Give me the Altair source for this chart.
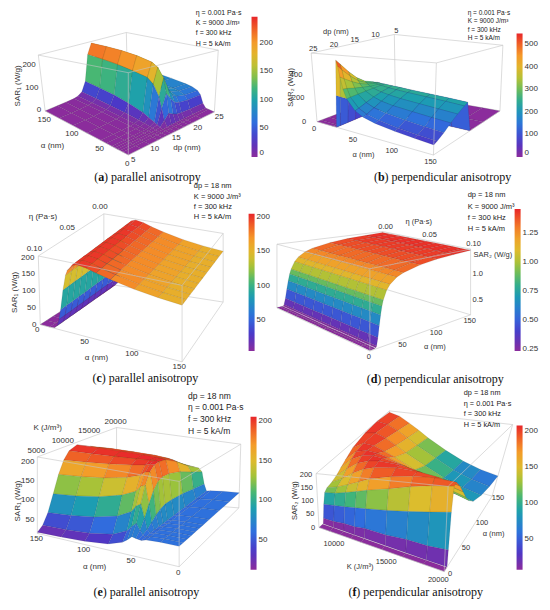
import altair as alt
import pandas as pd

# ======================= values =======================
# (a) parallel anisotropy: SAR1 (W/g) over alpha (nm) x dp (nm)
A_alpha = [0, 10, 15, 20, 25, 30, 40, 50, 75, 100, 125, 150]
A_dp = [5, 8, 10, 12, 13, 14, 15, 16, 17, 18, 19, 20, 22, 25]
A_sar = [
    [0, 0, 0, 0, 0, 0, 0, 0, 0, 0, 0, 0, 0, 0],
    [0, 0, 0, 0, 0, 0, 0, 0, 0, 1, 1, 1, 1, 1],
    [0, 0, 0, 0, 0, 0, 0, 1, 3, 2, 2, 2, 2, 2],
    [0, 0, 0, 0, 0, 1, 3, 20, 40, 30, 22, 20, 18, 17],
    [0, 0, 0, 0, 1, 3, 8, 60, 110, 85, 62, 55, 50, 48],
    [0, 0, 0, 1, 1, 4, 12, 100, 165, 120, 88, 75, 66, 62],
    [0, 0, 0, 1, 2, 6, 20, 140, 200, 140, 102, 86, 74, 70],
    [0, 0, 0, 1, 3, 9, 30, 160, 215, 148, 106, 89, 77, 73],
    [0, 0, 0, 2, 4, 12, 42, 170, 228, 152, 108, 90, 79, 76],
    [0, 0, 0, 2, 5, 15, 52, 180, 236, 154, 108, 90, 80, 77],
    [0, 0, 0, 2, 5, 17, 58, 186, 240, 153, 107, 90, 80, 77],
    [0, 0, 0, 2, 6, 18, 62, 190, 242, 152, 107, 90, 80, 77],
]
# (b) perpendicular anisotropy: SAR2 (W/g) over alpha x dp
B_alpha = [0, 20, 25, 27, 29, 31, 33, 36, 40, 50, 60, 75, 100, 125, 150]
B_dp = [5, 10, 13, 14, 15, 16, 18, 20, 22, 24, 25]
B_sar = [
    [0, 0, 0, 0, 0, 0, 0, 0, 0, 0, 0],
    [0, 0, 0, 0, 0, 0, 0, 0, 0, 0, 0],
    [0, 0, 0, 0, 0, 0, 0, 0, 0, 0, 0],
    [0, 0, 0, 0, 120, 130, 150, 170, 200, 240, 260],
    [0, 0, 0, 0, 265, 280, 310, 360, 430, 510, 548],
    [0, 0, 0, 0, 266, 276, 298, 336, 395, 462, 500],
    [0, 0, 0, 0, 265, 272, 287, 312, 350, 392, 415],
    [0, 0, 0, 0, 262, 266, 272, 285, 300, 318, 322],
    [0, 0, 0, 0, 262, 262, 260, 258, 255, 252, 250],
    [0, 0, 0, 0, 258, 252, 240, 222, 200, 178, 170],
    [0, 0, 0, 0, 255, 247, 228, 200, 172, 145, 135],
    [0, 0, 0, 0, 250, 240, 215, 183, 150, 120, 110],
    [0, 0, 0, 0, 243, 232, 203, 168, 130, 98, 88],
    [0, 0, 0, 0, 237, 224, 192, 155, 115, 84, 75],
    [0, 0, 0, 0, 230, 215, 182, 145, 105, 75, 65],
]
# (c) parallel anisotropy: SAR1 over alpha x eta (no visible eta dependence)
C_alpha = [0, 10, 15, 18, 20, 22, 25, 28, 30, 35, 40, 50, 60, 75, 100, 125, 150]
C_eta = [0, 0.01, 0.02, 0.03, 0.04, 0.05, 0.06, 0.07, 0.08, 0.09, 0.1]
C_sar = [0, 0, 2, 10, 30, 60, 120, 165, 180, 198, 202, 198, 190, 180, 167, 158, 152]
# (d) perpendicular anisotropy: SAR2 over alpha x eta (no visible eta dependence)
D_alpha = [0, 5, 8, 9, 10, 12, 14, 16, 18, 20, 25, 30, 40, 50, 75, 100, 125, 150]
D_eta = [0, 0.01, 0.02, 0.03, 0.04, 0.05, 0.06, 0.07, 0.08, 0.09, 0.1]
D_sar = [0.23, 0.23, 0.235, 0.236, 0.26, 0.38, 0.56, 0.72, 0.85, 0.94, 1.08, 1.16,
         1.25, 1.30, 1.37, 1.41, 1.43, 1.45]
# (e) parallel anisotropy: SAR1 over alpha x K (J/m3)
E_alpha = [0, 20, 35, 40, 43, 46, 50, 55, 60, 75, 100, 125, 150]
E_K = [5000, 6000, 7000, 8000, 9000, 10000, 11000, 12500, 15000, 17500, 20000]
E_sar = [
    [62, 62, 62, 62, 62, 62, 62, 62, 62, 62, 62],
    [62, 62, 62, 62, 62, 62, 62, 62, 62, 62, 62],
    [60, 60, 60, 60, 60, 60, 60, 60, 60, 60, 60],
    [56, 57, 58, 58, 58, 58, 58, 58, 58, 58, 58],
    [57, 60, 66, 76, 86, 94, 98, 98, 94, 86, 78],
    [58, 70, 92, 120, 146, 162, 168, 166, 154, 134, 114],
    [60, 85, 125, 165, 192, 204, 206, 202, 180, 150, 124],
    [50, 75, 118, 160, 190, 204, 207, 204, 184, 153, 126],
    [42, 62, 102, 146, 180, 200, 206, 205, 186, 156, 127],
    [30, 46, 84, 130, 168, 194, 204, 206, 189, 159, 129],
    [23, 36, 70, 115, 157, 187, 201, 206, 190, 160, 129],
    [20, 32, 62, 106, 150, 182, 199, 206, 190, 159, 127],
    [18, 30, 57, 100, 145, 178, 197, 205, 188, 157, 125],
]
# (f) perpendicular anisotropy: SAR2 over alpha x K
F_alpha = [0, 8, 9, 10, 12, 15, 20, 30, 40, 50, 60, 75, 100, 125, 150]
F_K = [8000, 9000, 10000, 11000, 12000, 14000, 16000, 18000, 20000]
F_sar = [
    [0, 0, 0, 0, 0, 0, 0, 0, 0],
    [0, 0, 0, 0, 0, 0, 0, 0, 0],
    [0, 0, 0, 0, 0, 0, 0, 0, 0],
    [20, 20, 25, 25, 30, 30, 35, 35, 40],
    [70, 75, 80, 85, 90, 100, 110, 120, 130],
    [110, 115, 125, 135, 145, 160, 175, 185, 190],
    [120, 130, 145, 160, 175, 190, 198, 200, 195],
    [125, 145, 170, 188, 198, 204, 200, 190, 175],
    [135, 165, 190, 202, 206, 200, 185, 165, 150],
    [150, 185, 203, 206, 200, 185, 160, 140, 125],
    [165, 198, 206, 200, 190, 165, 140, 120, 105],
    [185, 205, 200, 185, 170, 140, 115, 95, 85],
    [200, 205, 190, 170, 150, 120, 95, 80, 70],
    [205, 198, 180, 160, 140, 110, 85, 70, 62],
    [200, 190, 170, 150, 130, 100, 78, 65, 58],
]

# tick values
A_alpha_ticks = [0, 50, 100, 150]; A_dp_ticks = [5, 10, 15, 20, 25]; A_sar_ticks = [0, 100, 200]
B_alpha_ticks = [0, 50, 100, 150]; B_dp_ticks = [5, 10, 15, 20, 25]; B_sar_ticks = [0, 200, 400]
C_alpha_ticks = [0, 50, 100, 150]; C_eta_ticks = [0, 0.05, 0.1]; C_sar_ticks = [0, 50, 100, 150, 200]
D_alpha_ticks = [0, 50, 100, 150]; D_eta_ticks = [0, 0.05, 0.1]; D_sar_ticks = [0.5, 1.0]
E_alpha_ticks = [0, 50, 100, 150]; E_K_ticks = [5000, 10000, 15000, 20000]; E_sar_ticks = [50, 100, 150, 200]
F_alpha_ticks = [0, 50, 100, 150]; F_K_ticks = [10000, 15000, 20000]; F_sar_ticks = [0, 50, 100, 150, 200]
# colour bars: value range and labelled values
BAR_RANGE = {'A': (0, 245), 'B': (0, 548), 'C': (4, 205), 'D': (0.23, 1.46), 'E': (12, 206), 'F': (8, 207)}
BAR_TICKS = {'A': [0, 50, 100, 150, 200], 'B': [0, 100, 200, 300, 400, 500],
             'C': [50, 100, 150, 200], 'D': [0.25, 0.5, 0.75, 1.0, 1.25],
             'E': [50, 100, 150, 200], 'F': [50, 100, 150, 200]}
# parameter notes
NOTE_A = ["η = 0.001 Pa·s", "K = 9000 J/m³", "f = 300 kHz", "H = 5 kA/m"]
NOTE_B = ["η = 0.001 Pa·s", "K = 9000 J/m³", "f = 300 kHz", "H = 5 kA/m"]
NOTE_C = ["dp = 18 nm", "K = 9000 J/m³", "f = 300 kHz", "H = 5 kA/m"]
NOTE_D = ["dp = 18 nm", "K = 9000 J/m³", "f = 300 kHz", "H = 5 kA/m"]
NOTE_E = ["dp = 18 nm", "η = 0.001 Pa·s", "f = 300 kHz", "H = 5 kA/m"]
NOTE_F = ["dp = 18 nm", "η = 0.001 Pa·s", "f = 300 kHz", "H = 5 kA/m"]
CAPTIONS = [('a', 'parallel anisotropy'), ('b', 'perpendicular anisotropy'),
            ('c', 'parallel anisotropy'), ('d', 'perpendicular anisotropy'),
            ('e', 'parallel anisotropy'), ('f', 'perpendicular anisotropy')]

# ======================= layout / style =======================
W, H = 534, 594
X0, X1, Y0, Y1 = 2, 548, 2, 608
SX = W / (X1 - X0); SY = H / (Y1 - Y0)
XS = alt.Scale(domain=[X0, X1], nice=False, zero=False)
YS = alt.Scale(domain=[Y0, Y1], nice=False, zero=False, reverse=True)
SANS = "Liberation Sans, Arial, sans-serif"
SERIF = "Liberation Serif, Times New Roman, serif"
STOPS = [0, 0.12, 0.25, 0.40, 0.50, 0.60, 0.70, 0.82, 0.92, 1.0]
COLORS = ["#8b2c9c", "#4c37c7", "#2f6fde", "#1b9fb0", "#43b677", "#9cc33b",
          "#dcbd2d", "#f59a29", "#ef5d26", "#e8262a"]
# thin unplotted strip (white line) seen along the front of (d) and (f)
GAP = {'D': (8, 9), 'F': (8, 9)}

# box corners on screen (u = first axis min/max, v = second axis min/max)
GEOM = {
    'A': dict(ar=(0, 150), br=(5, 25), zr=(0, 250),
              F={(0, 0): (125, 152), (1, 0): (40, 107), (0, 1): (213, 108), (1, 1): (124, 72)},
              T={(0, 0): (125, 68), (1, 0): (33, 50), (0, 1): (217, 45), (1, 1): (123, 27)}),
    'B': dict(ar=(0, 150), br=(5, 25), zr=(0, 590),
              F={(0, 0): (398, 88), (1, 0): (505, 107), (0, 1): (318, 118), (1, 1): (437, 152)},
              T={(0, 0): (397, 29), (1, 0): (508, 40), (0, 1): (312, 48), (1, 1): (440, 58)}),
    'C': dict(ar=(0, 150), br=(0, 0.1), zr=(0, 205),
              F={(0, 0): (100, 283), (1, 0): (222, 302), (0, 1): (35, 325), (1, 1): (180, 363)},
              T={(0, 0): (100, 212), (1, 0): (222, 232), (0, 1): (33, 255), (1, 1): (180, 285)}),
    'D': dict(ar=(0, 150), br=(0, 0.1), zr=(0.22, 1.47),
              F={(0, 0): (277, 308), (1, 0): (385, 288), (0, 1): (372, 352), (1, 1): (475, 315)},
              T={(0, 0): (277, 243), (1, 0): (385, 230), (0, 1): (372, 268), (1, 1): (475, 248)}),
    'E': dict(ar=(0, 150), br=(5000, 20000), zr=(15, 212),
              F={(0, 0): (177, 572), (1, 0): (32, 538), (0, 1): (238, 512), (1, 1): (113, 502)},
              T={(0, 0): (177, 485), (1, 0): (32, 460), (0, 1): (240, 447), (1, 1): (113, 430)}),
    'F': dict(ar=(0, 150), br=(8000, 20000), zr=(0, 205),
              F={(0, 0): (320, 532), (1, 0): (392, 470), (0, 1): (448, 577), (1, 1): (497, 500)},
              T={(0, 0): (317, 477), (1, 0): (392, 413), (0, 1): (452, 490), (1, 1): (518, 427)}),
}
BAR_POS = {'A': (251, 11, 143), 'B': (522, 28, 126), 'C': (248, 212, 140),
           'D': (520, 207, 145), 'E': (250, 419, 156), 'F': (522, 428, 147)}
NOTE_POS = {'A': (194, [7, 17.5, 28, 38.5], 7), 'B': (472, [7, 15.5, 24, 32.5], 6.5),
            'C': (192, [184, 194.5, 205, 215.5], 7.5), 'D': (472, [193, 205, 216, 227], 7.5),
            'E': (186, [398, 409.5, 421.5, 433.5], 8.5), 'F': (468, [394.5, 405.5, 416.5, 427.5], 7.3)}
CAP_POS = [(143.5, 174), (445, 174), (141.5, 379), (437.5, 380), (142.5, 598), (417.5, 598)]
BOLD_W = {'a': 0.5, 'b': 0.556, 'c': 0.444, 'd': 0.556, 'e': 0.444, 'f': 0.333}
REST_W = {'parallel anisotropy': 7.47, 'perpendicular anisotropy': 9.97}
CAP_FS = 12

# ======================= tables built from the values =======================
def quad_rows(p, avals, bvals, Z):
    G = GEOM[p]; Fc = G['F']
    (a0, a1), (b0, b1) = G['ar'], G['br']
    gap = GAP.get(p)

    def fy(u, v):
        return ((1 - u) * (1 - v) * Fc[(0, 0)][1] + u * (1 - v) * Fc[(1, 0)][1]
                + (1 - u) * v * Fc[(0, 1)][1] + u * v * Fc[(1, 1)][1])
    quads = []
    for i in range(len(avals) - 1):
        if gap and avals[i] == gap[0] and avals[i + 1] == gap[1]:
            continue
        for j in range(len(bvals) - 1):
            uc = ((avals[i] + avals[i + 1]) / 2 - a0) / (a1 - a0)
            vc = ((bvals[j] + bvals[j + 1]) / 2 - b0) / (b1 - b0)
            verts = [(i, j), (i + 1, j), (i + 1, j + 1), (i, j + 1)]
            zc = sum(Z[ii][jj] for ii, jj in verts) / 4
            quads.append((fy(uc, vc), verts, zc))
    quads.sort(key=lambda q: q[0])
    rows = []
    for n, (_, verts, zc) in enumerate(quads):
        for k, (ii, jj) in enumerate(verts):
            rows.append(dict(panel=p, qid=f"{p}{n:04d}", k=k, a=avals[ii], b=bvals[jj],
                             z=Z[ii][jj], zc=zc))
    return rows

qrows = []
qrows += quad_rows('A', A_alpha, A_dp, A_sar)
qrows += quad_rows('B', B_alpha, B_dp, B_sar)
qrows += quad_rows('C', C_alpha, C_eta, [[v] * len(C_eta) for v in C_sar])
qrows += quad_rows('D', D_alpha, D_eta, [[v] * len(D_eta) for v in D_sar])
qrows += quad_rows('E', E_alpha, E_K, E_sar)
qrows += quad_rows('F', F_alpha, F_K, F_sar)
quads_df = pd.DataFrame(qrows)

def edge_rows(p):
    G = GEOM[p]; Fc = G['F']
    (a0, a1), (b0, b1), (z0, z1) = G['ar'], G['br'], G['zr']
    keys = list(Fc.keys())
    near = max(keys, key=lambda k: Fc[k][1]); far = min(keys, key=lambda k: Fc[k][1])
    others = [k for k in keys if k not in (near, far)]

    def c3(k, top):
        return (a0 if k[0] == 0 else a1, b0 if k[1] == 0 else b1, z1 if top else z0)
    back = [(far, 0, o, 0) for o in others] + [(far, 0, far, 1)] + \
           [(far, 1, o, 1) for o in others] + [(o, 0, o, 1) for o in others]
    front = [(near, 1, o, 1) for o in others] + [(near, 0, near, 1)] + \
            [(near, 0, o, 0) for o in others]
    rows = []
    for flag, lst in ((0, back), (1, front)):
        for k1, t1, k2, t2 in lst:
            a, b, z = c3(k1, t1); a2, b2, z2 = c3(k2, t2)
            rows.append(dict(panel=p, a=a, b=b, z=z, a2=a2, b2=b2, z2=z2, front=flag))
    return rows

edges_df = pd.DataFrame(sum((edge_rows(p) for p in GEOM), []))

fint = lambda t: f"{t:g}"
f2 = lambda t: f"{t:.2f}"
f1 = lambda t: f"{t:.1f}"
lrows = []

def ticks(p, vals, pos, off, al, fs, fmt, ang=0):
    for t in vals:
        a, b, z = [t if c == 't' else c for c in pos]
        lrows.append(dict(panel=p, a=a, b=b, z=z, text=fmt(t), ox=off[0], oy=off[1],
                          al=al, ang=ang, fs=fs))

def title(p, text, pos, off, al='center', fs=8, ang=0):
    lrows.append(dict(panel=p, a=pos[0], b=pos[1], z=pos[2], text=text, ox=off[0], oy=off[1],
                      al=al, ang=ang, fs=fs))

ticks('A', A_alpha_ticks, ('t', 5, 0), (-1, 9), 'center', 8, fint)
ticks('A', A_dp_ticks, (0, 't', 0), (5, 5), 'center', 8, fint)
ticks('A', A_sar_ticks, (150, 5, 't'), (-4, -1), 'right', 8, fint)
title('A', "α (nm)", (75, 5, 0), (-35, 13))
title('A', "dp (nm)", (0, 15, 0), (16, 15))
title('A', "SAR₁ (W/g)", (150, 5, 125), (-24, 3), ang=270)

ticks('B', B_alpha_ticks, ('t', 25, 0), (-3, 7), 'center', 7.5, fint)
ticks('B', B_dp_ticks, (0, 't', 590), (2, -4), 'center', 7.5, fint)
ticks('B', B_sar_ticks, (0, 25, 't'), (-11, 0), 'right', 7.5, fint)
title('B', "α (nm)", (75, 25, 0), (-12, 17), fs=7.5)
title('B', "dp (nm)", (0, 20, 590), (4, -17), fs=7.5)
title('B', "SAR₂ (W/g)", (0, 25, 295), (-24, 0), fs=7.5, ang=270)

ticks('C', C_alpha_ticks, ('t', 0.1, 0), (-3, 5), 'center', 8, fint)
ticks('C', C_eta_ticks, (0, 't', 205), (-4, -7), 'center', 8, f2)
ticks('C', C_sar_ticks, (0, 0.1, 't'), (-4, 0), 'right', 8, fint)
title('C', "α (nm)", (75, 0.1, 0), (-15, 15))
title('C', "η (Pa·s)", (0, 0.075, 205), (-12, -29))
title('C', "SAR₁ (W/g)", (0, 0.1, 102), (-25, 2), ang=270)

ticks('D', D_alpha_ticks, ('t', 0.1, 0.22), (-1, 6), 'center', 7.5, fint)
ticks('D', D_eta_ticks, (150, 't', 1.47), (3, -5), 'center', 7.5, f2)
ticks('D', D_sar_ticks, (150, 0.1, 't'), (2, 0), 'left', 7.5, f1)
title('D', "α (nm)", (75, 0.1, 0.22), (15, 14), fs=7.5)
title('D', "η (Pa·s)", (150, 0.05, 1.47), (-8, -19), fs=7.5)
title('D', "SAR₂ (W/g)", (150, 0.1, 1.35), (3, 0), al='left', fs=7.5)

ticks('E', E_alpha_ticks, ('t', 5000, 15), (-1, 6), 'center', 8, fint)
ticks('E', E_K_ticks, (150, 't', 212), (-1, -6), 'center', 8, fint)
ticks('E', E_sar_ticks, (150, 5000, 't'), (-3, 0), 'right', 8, fint)
title('E', "α (nm)", (75, 5000, 15), (-14, 17))
title('E', "K (J/m³)", (150, 12500, 212), (-30, -15))
title('E', "SAR₁ (W/g)", (150, 5000, 113.5), (-20, 6), ang=270)

ticks('F', F_K_ticks, (0, 't', 0), (-6, 9), 'center', 7.5, fint)
ticks('F', F_alpha_ticks, ('t', 20000, 0), (6, 2), 'center', 7.5, fint)
ticks('F', F_sar_ticks, (0, 8000, 't'), (-4, 0), 'right', 7.5, fint)
title('F', "K (J/m³)", (0, 14000, 0), (-22, 18), fs=7.5)
title('F', "α (nm)", (75, 20000, 0), (26, 0), fs=7.5)
title('F', "SAR₂ (W/g)", (0, 8000, 102.5), (-23, 0), fs=7.5, ang=270)
labels_df = pd.DataFrame(lrows)

NOTES = {'A': NOTE_A, 'B': NOTE_B, 'C': NOTE_C, 'D': NOTE_D, 'E': NOTE_E, 'F': NOTE_F}
nrows = []
for p, lines in NOTES.items():
    x, ys, fs = NOTE_POS[p]
    for t, y in zip(lines, ys):
        nrows.append(dict(x=x, y=y, text=t, fs=fs))
notes_df = pd.DataFrame(nrows)

crows = []
for (letter, rest), (cx, cy) in zip(CAPTIONS, CAP_POS):
    total = (0.333 + BOLD_W[letter] + 0.333 + 0.25 + REST_W[rest]) * CAP_FS
    x0 = cx - total / 2
    crows.append(dict(x=x0, y=cy, text="(", bold=0))
    crows.append(dict(x=x0 + 0.333 * CAP_FS, y=cy, text=letter, bold=1))
    crows.append(dict(x=x0 + (0.333 + BOLD_W[letter]) * CAP_FS, y=cy, text=") " + rest, bold=0))
cap_df = pd.DataFrame(crows)

# ======================= projection expressions =======================
def tern(fn):
    s = ""
    for p in GEOM:
        s += f"datum.panel==='{p}' ? {fn(p)} : "
    return s + "0"

def norm(field, key, p):
    lo, hi = GEOM[p][key]
    return f"((datum.{field}-({lo}))/(({hi})-({lo})))"

def tri(p, idx, sfx):
    u, v, w = f"datum.u{sfx}", f"datum.v{sfx}", f"datum.w{sfx}"
    Fc, Tc = GEOM[p]['F'], GEOM[p]['T']

    def bil(C):
        return (f"((1-{u})*(1-{v})*{C[(0, 0)][idx]}+{u}*(1-{v})*{C[(1, 0)][idx]}"
                f"+(1-{u})*{v}*{C[(0, 1)][idx]}+{u}*{v}*{C[(1, 1)][idx]})")
    return f"((1-{w})*{bil(Fc)}+{w}*{bil(Tc)})"

def add_proj(ch, a='a', b='b', z='z', sfx=''):
    ch = ch.transform_calculate(**{f"u{sfx}": tern(lambda p: norm(a, 'ar', p))})
    ch = ch.transform_calculate(**{f"v{sfx}": tern(lambda p: norm(b, 'br', p))})
    ch = ch.transform_calculate(**{f"w{sfx}": tern(lambda p: norm(z, 'zr', p))})
    ch = ch.transform_calculate(**{f"px{sfx}": tern(lambda p: tri(p, 0, sfx))})
    ch = ch.transform_calculate(**{f"py{sfx}": tern(lambda p: tri(p, 1, sfx))})
    return ch

def edge_layer(front):
    ch = alt.Chart(edges_df).transform_filter(f"datum.front==={front}")
    ch = add_proj(ch)
    ch = add_proj(ch, 'a2', 'b2', 'z2', '2')
    return ch.mark_rule(color="#c4c4c4", strokeWidth=0.6).encode(
        x=alt.X('px:Q', scale=XS, axis=None), y=alt.Y('py:Q', scale=YS, axis=None),
        x2='px2:Q', y2='py2:Q')

def surface_layer(p):
    lo, hi = BAR_RANGE[p]
    dom = [lo + s * (hi - lo) for s in STOPS]
    bx, by, bl = BAR_POS[p]
    fmt = ".2f" if p == 'D' else "d"
    ch = alt.Chart(quads_df).transform_filter(f"datum.panel==='{p}'")
    ch = add_proj(ch)
    return ch.mark_line(interpolate='linear-closed', stroke="#1a1a1a", strokeWidth=0.3,
                        strokeOpacity=0.35).encode(
        x=alt.X('px:Q', scale=XS, axis=None),
        y=alt.Y('py:Q', scale=YS, axis=None),
        fill=alt.Fill('zc:Q', scale=alt.Scale(domain=dom, range=COLORS, clamp=True,
                                              interpolate='rgb'),
                      legend=alt.Legend(title=None, orient='none', direction='vertical',
                                        legendX=(bx - X0) * SX, legendY=(by - Y0) * SY,
                                        gradientLength=bl * SY, gradientThickness=6,
                                        gradientStrokeWidth=0, values=BAR_TICKS[p], format=fmt,
                                        labelFont=SANS, labelFontSize=8, labelColor="#333",
                                        labelOffset=2, padding=0)),
        detail='qid:N', order=alt.Order('k:Q'))

def label_layer(al, ang):
    ch = alt.Chart(labels_df).transform_filter(f"datum.al==='{al}' && datum.ang==={ang}")
    ch = add_proj(ch).transform_calculate(tx="datum.px+datum.ox", ty="datum.py+datum.oy")
    return ch.mark_text(align=al, baseline='middle', angle=ang, font=SANS, color="#333").encode(
        x=alt.X('tx:Q', scale=XS, axis=None), y=alt.Y('ty:Q', scale=YS, axis=None),
        text='text:N', size=alt.Size('fs:Q', scale=None))

layers = [edge_layer(0)]
layers += [surface_layer(p) for p in GEOM]
layers += [edge_layer(1)]
layers += [label_layer('center', 0), label_layer('right', 0), label_layer('left', 0),
           label_layer('center', 270)]
layers.append(alt.Chart(notes_df).mark_text(align='left', baseline='middle', font=SANS,
                                            color="#222").encode(
    x=alt.X('x:Q', scale=XS, axis=None), y=alt.Y('y:Q', scale=YS, axis=None),
    text='text:N', size=alt.Size('fs:Q', scale=None)))
for bold in (0, 1):
    layers.append(alt.Chart(cap_df).transform_filter(f"datum.bold==={bold}").mark_text(
        align='left', baseline='middle', font=SERIF, fontSize=CAP_FS, color="#111",
        fontWeight='bold' if bold else 'normal').encode(
        x=alt.X('x:Q', scale=XS, axis=None), y=alt.Y('y:Q', scale=YS, axis=None),
        text='text:N'))

chart = alt.layer(*layers).resolve_scale(fill='independent').properties(
    width=W, height=H, padding=0, autosize=alt.AutoSizeParams(type='none')
).configure_view(stroke=None)

chart.save("out.html", embed_options={"renderer": "svg", "actions": False})
